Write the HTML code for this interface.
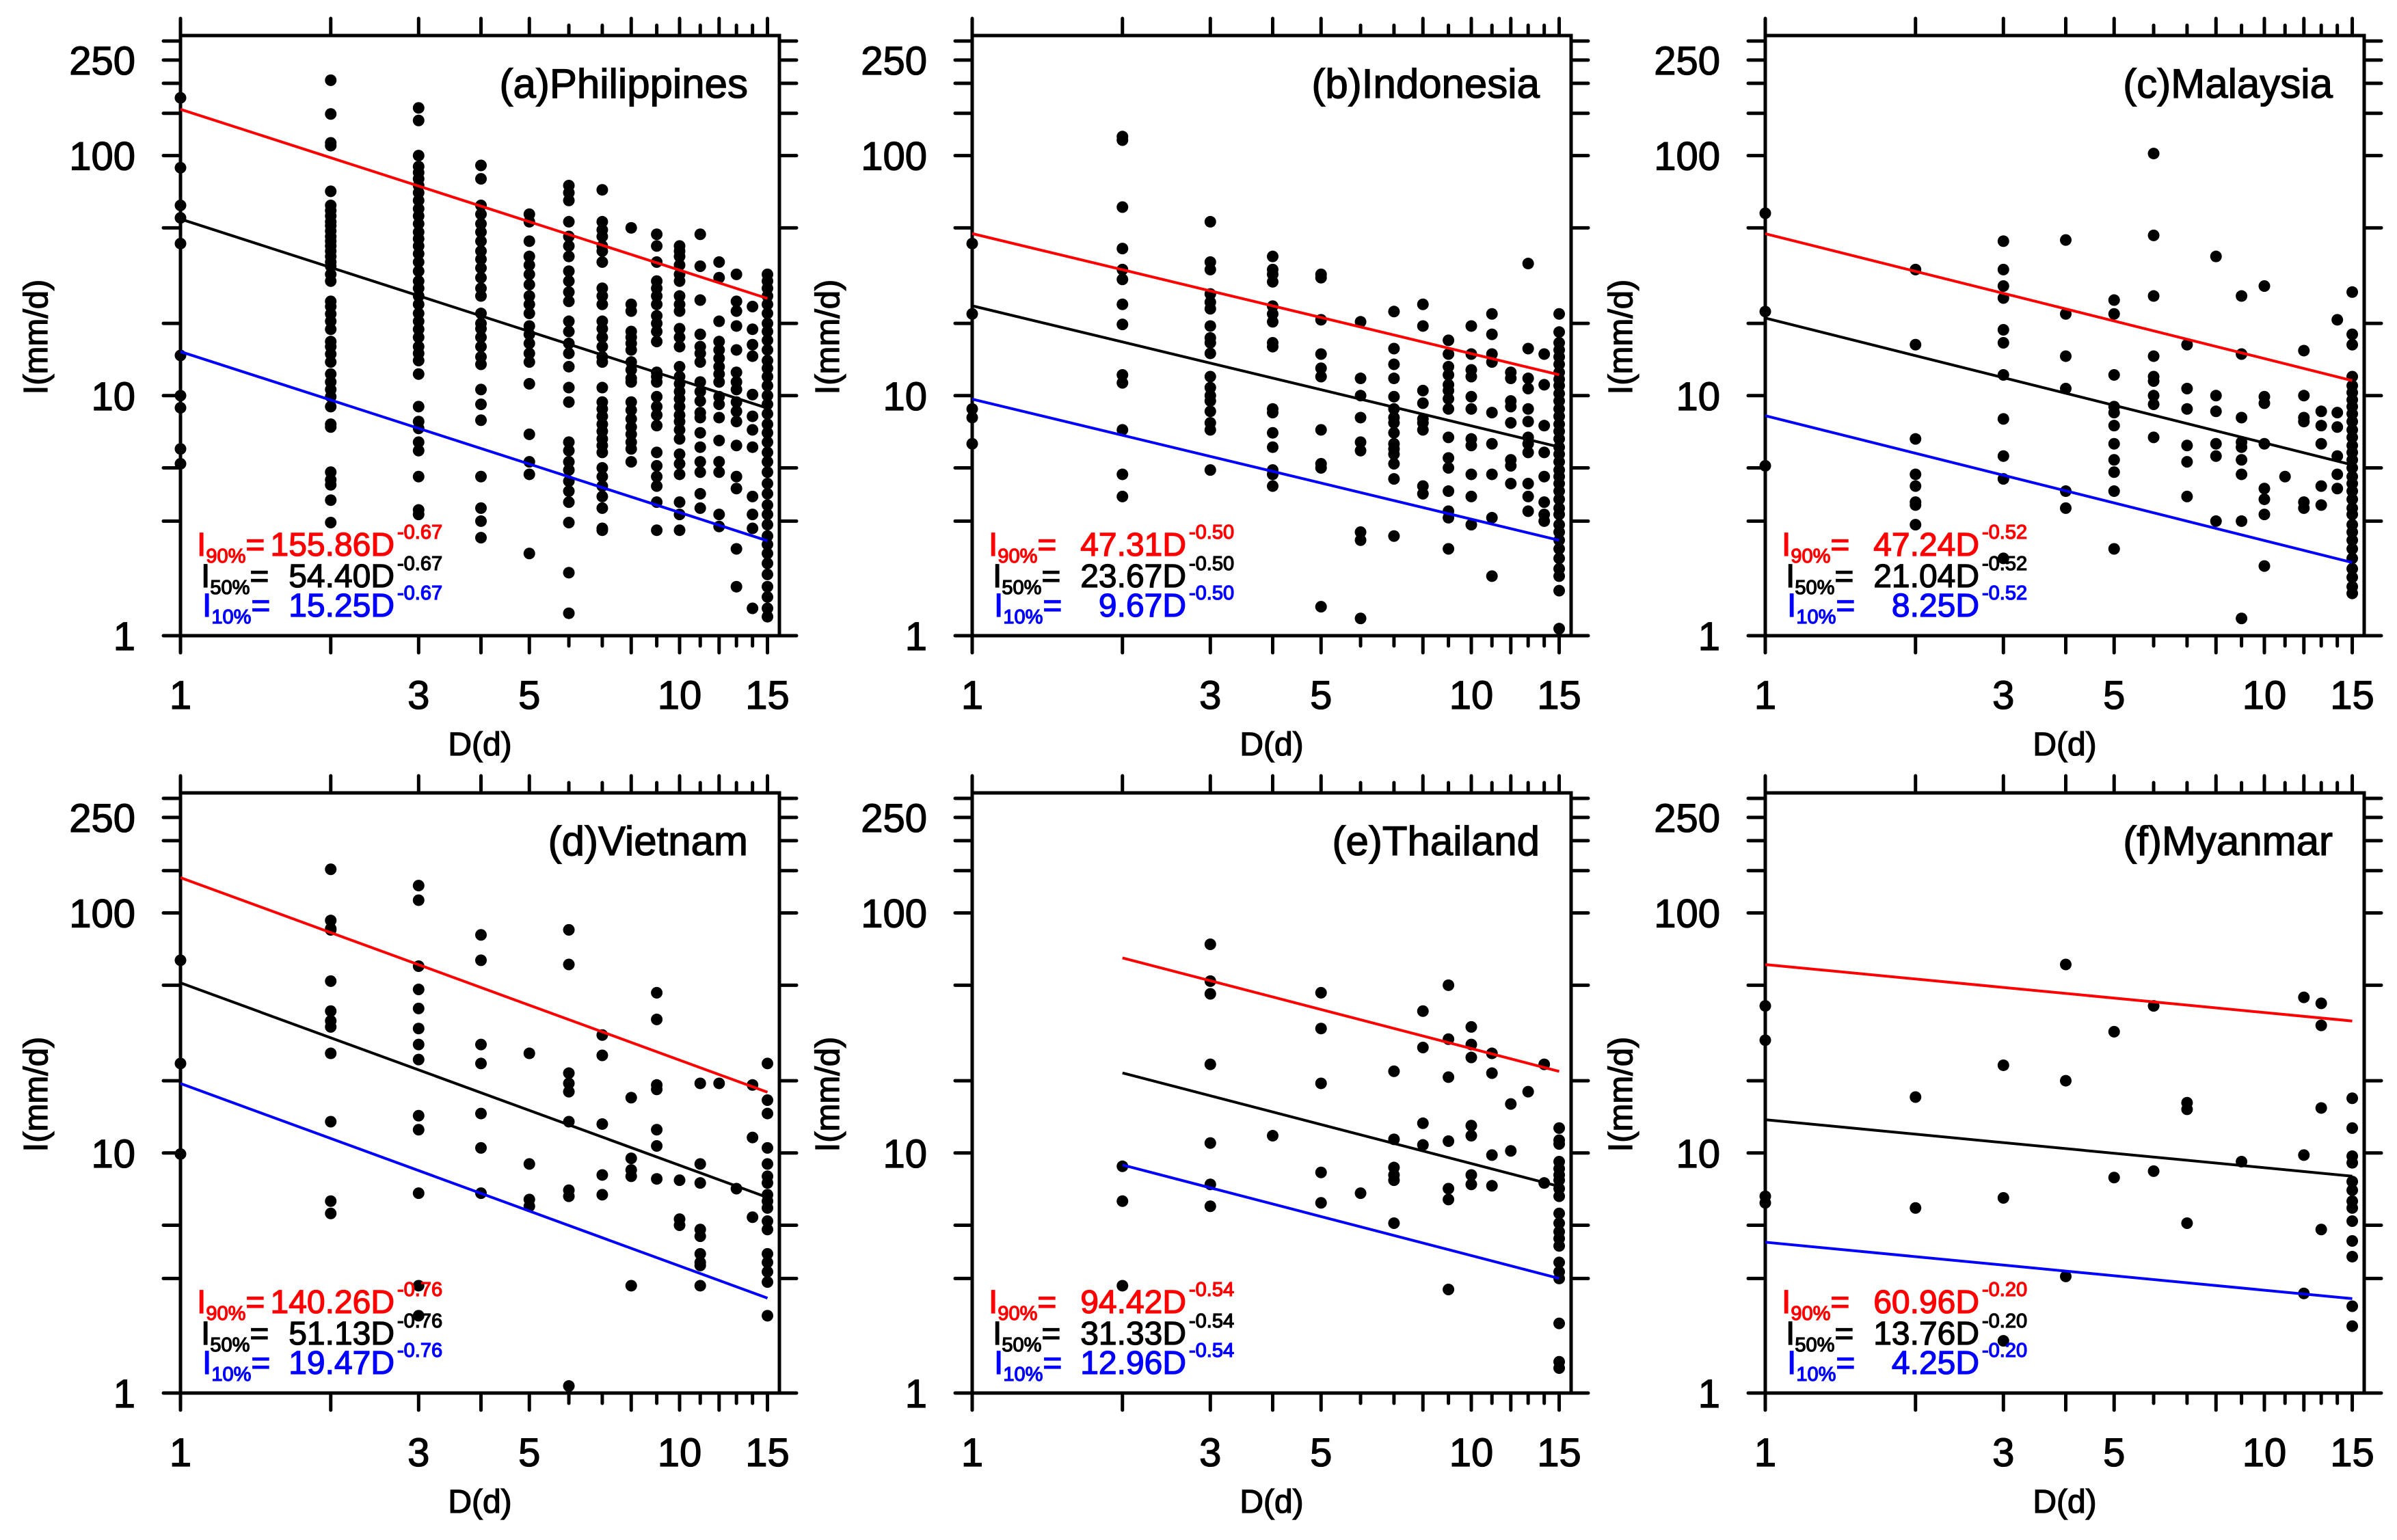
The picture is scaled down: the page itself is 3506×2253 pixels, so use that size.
<!DOCTYPE html>
<html><head><meta charset="utf-8"><style>
html,body{margin:0;padding:0;background:#fff}
svg{display:block}
text{font-family:"Liberation Sans",Arial,sans-serif;stroke:#000;stroke-width:1.3}
</style></head><body>
<svg id="fig" xmlns="http://www.w3.org/2000/svg" width="3506" height="2253" viewBox="0 0 3506 2253"></svg>
<script>
// ---- data (D in days, I in mm/d) ----
const panelTitles = ["(a)Philippines","(b)Indonesia","(c)Malaysia","(d)Vietnam","(e)Thailand","(f)Myanmar"];
const fitA90 = [155.86, 47.31, 47.24, 140.26, 94.42, 60.96];
const fitA50 = [54.40, 23.67, 21.04, 51.13, 31.33, 13.76];
const fitA10 = [15.25, 9.67, 8.25, 19.47, 12.96, 4.25];
const fitB = [-0.67, -0.50, -0.52, -0.76, -0.54, -0.20];
const fitDmin = [1, 1, 1, 1, 2, 1];
const fitDmax = [15, 15, 15, 15, 15, 15];
const days = [1,2,3,4,5,6,7,8,9,10,11,12,13,14,15];

const phValues = [
 [174,89,62,55,43,14.7,10,8.9,6.0,5.2],
 [206,149,113,110,71,62,59,56,53,51,48.5,46,44,42,40,38,36,34.6,32,30,24.7,23.5,21.9,20.4,18.9,16.8,16,14.9,13.8,12.3,11.4,10.6,9.9,9,7.6,7.4,4.8,4.46,4.25,3.67,2.96],
 [158,140,100,90,85,80,75,70,65,60,56,52,48,45,42,39,36,33,30,28,26,24,22,20.4,18.9,17.5,16,15,14,12.3,9,7.8,7.3,6.4,5.9,4.6,3.34,3.2],
 [91,80,62,57,52,48,44,40,37,34,31,28,26,22,20,19,17.5,16,14.5,13.5,10.6,9.2,7.9,4.6,3.4,3,2.56],
 [57,53,44,38,35,32,29,26,24,22,19.5,18,16.5,15,13.8,11.2,6.9,5.3,4.7,2.2],
 [75,70,65,53,46,42,38,33,30,27,24.7,20.4,18.5,16.5,15,13.2,10.8,9.4,6.4,5.9,5.3,4.9,4.4,4.0,3.6,2.96,1.83,1.24],
 [72,53,49,46,42,40,36,28,26,24,20.4,19,17.5,16,14.5,13.8,10.8,9.4,8.8,8.2,7.6,7.1,6.6,6.2,5.8,5.0,4.6,4.2,3.8,3.4,2.8,2.75],
 [50,24,22.5,18.5,17.5,16.5,15.5,13.8,12.8,11.8,11.4,9.4,8.7,8.0,7.4,6.9,6.4,6.0,5.3],
 [47,42,36,30,28,26,24,21.5,20,18.5,16.8,12.5,12,11.4,9.9,9.0,8.3,7.5,5.8,5.1,4.6,4.2,3.6,2.75],
 [42,40,38,35,32,30,26,24,22.5,19,17.5,16,13.2,12,11.2,10.4,9.7,9.0,8.3,7.8,7.2,6.6,5.7,5.2,4.7,3.6,3.2,2.75],
 [47,34.6,25,18,16,15,13.8,11.4,10.4,9.5,8.5,8.1,7,6.1,5.3,4.8,3.9,3.4],
 [36,31,20.4,16.8,15.5,14.3,13.2,12.3,11.4,9.9,9.2,8.1,6.5,5.3,4.8,3.2,2.85],
 [32,24.7,22.5,19.5,15.5,12.5,11.4,10.6,9.4,8.6,7.8,6.2,4.6,4.1,2.3,1.6],
 [23.5,18.9,16.3,14.6,10.1,8.2,7.2,6.1,3.8,3.2,2.8,1.3],
 [32,30,28,26,24,22,20,18.5,17,15.5,14,13,12,11,10,9.2,8.4,7.6,7,6.4,5.8,5.3,4.8,4.3,3.9,3.5,3.2,2.9,2.6,2.4,2.2,2.0,1.8,1.6,1.45,1.3,1.2]
];
const idValues = [
 [43,21.9,8.8,8.1,6.3],
 [120,116,61,41,33.5,30.5,24,19.8,12.2,11.3,7.2,4.7,3.8],
 [53,36,33.5,26.5,24.5,23,19.5,17.4,16.6,15,12,10.8,10,9.5,8.6,7.7,7.2,4.9],
 [38,33.5,32,29.8,23.6,21.9,20.3,16.6,16,8.8,8.5,7.0,6.1,4.9,4.7,4.2],
 [32,31,20.7,14.9,13,12,7.2,5.2,5.0,1.32],
 [20.3,11.8,10,8.1,6.4,5.9,2.7,2.5,1.18],
 [22.4,15.7,13.5,11.8,9.9,8.8,8.1,7.7,7.0,6.3,6.0,5.7,5.2,4.5,2.6],
 [24,19.5,10.5,9.3,8.0,7.7,7.2,4.2,3.9],
 [17,14.9,13.2,12.2,11.1,10.5,9.7,8.8,6.7,5.5,5.0,4.0,3.3,3.1,2.3],
 [19.5,14.9,12.8,12,9.9,8.8,6.6,6.2,4.7,3.8,2.9],
 [21.9,18,14.9,13.8,8.5,6.3,4.7,3.1,1.77],
 [12.5,11.8,9.5,9.0,7.7,5.4,5.1,4.3],
 [35.5,15.7,11.8,10.7,8.8,7.8,6.7,6.3,5.8,4.3,3.8,3.3],
 [14.9,11.1,7.5,5.8,4.6,3.6,3.2,3.0],
 [21.9,18.4,16.6,15.5,14.5,13.5,12.5,11.7,11,10.2,9.5,8.8,8.2,7.6,7.1,6.6,6.1,5.7,5.3,4.9,4.6,4.3,4.0,3.7,3.4,3.2,2.9,2.7,2.5,2.3,2.1,1.9,1.77,1.54,1.07]
];
const myValuesC = [
 [57.5,22.4,5.1],
 [33.5,16.3,6.6,4.7,4.2,3.6,3.5,2.9],
 [44,33.5,28.6,25.5,18.8,16.6,12.2,8.0,5.6,4.5,2.1],
 [44.5,21.9,14.6,10.7,4.0,3.4],
 [25,21.9,12.2,9.0,8.5,7.5,6.3,5.4,4.8,4.0,2.3],
 [102,46.5,26,14.6,12,11.5,10,9.2,6.7],
 [16.3,10.7,8.8,6.2,5.3,3.8],
 [38,10,8.6,6.3,5.6,3.0],
 [26,14.9,8.1,6.4,6.1,5.4,4.7,3.0,1.18],
 [28.6,9.9,9.3,6.3,4.1,3.7,3.2,1.95],
 [4.6],
 [15.4,10,8.1,7.8,3.6,3.4],
 [8.6,7.5,6.3,4.2,3.5],
 [20.7,8.5,7.4,5.6,4.7,4.1],
 [27,18,16.3,12,11,10.3,9.6,9,8.4,7.8,7.2,6.7,6.2,5.8,5.4,5.0,4.6,4.3,4.0,3.7,3.4,3.2,2.9,2.7,2.5,2.3,2.1,1.9,1.75,1.6,1.5]
];
const vnValues = [
 [63.5,23.6,9.9],
 [152,93,86,85,52,39,35.5,33.5,26,13.5,6.3,5.6],
 [130,113,60,48,40,33,28.3,24.5,14.3,12.5,6.8,2.8,2.1],
 [81,63.5,28.3,23.6,14.6,10.5,6.8],
 [26,9.0,6.4,6.0],
 [85,61,21.5,19.5,18,13.5,7.0,6.6,1.07],
 [31,25.5,13.2,8.1,6.7],
 [17,9.5,8.5,8.0,2.8],
 [46.5,36,19.2,18.4,12.5,10.7,7.8],
 [7.7,5.3,5.0],
 [19.5,9.0,7.5,4.8,4.5,3.8,3.5,3.4,2.8],
 [19.5],
 [7.1],
 [19.2,11.6,5.4],
 [23.6,16.6,14.6,10.5,9.0,8.0,7.5,6.7,6.3,5.9,5.2,4.8,3.8,3.5,3.2,2.9,2.1]
];
const thValues = [
 [],
 [8.8,6.3,2.8],
 [74,52,46,23.4,11,7.4,6.0],
 [11.8],
 [46.5,33,19.5,8.3,6.2],
 [6.8],
 [21.9,11.4,8.7,8.1,7.7,5.1],
 [39,27.5,13.3,10.8],
 [50,29.8,20.7,11.2,7.1,6.4,2.7],
 [33.5,28.3,25,13,11.8,8.1,7.4],
 [26,21.5,9.8,7.3],
 [16,10.2],
 [18],
 [23.4,7.5],
 [12.7,11.3,10.9,9.2,8.6,8.1,7.7,7.1,6.6,5.6,5.1,4.7,4.4,4.1,3.5,3.2,3.0,1.95,1.35,1.27]
];
const mmValues = [
 [41,29.5,6.6,6.2],
 [17.1,5.9],
 [23.2,6.5,1.65],
 [61,20,3.06],
 [32,7.9],
 [41,8.4],
 [16.2,15.2,5.1],
 [],
 [9.2],
 [],
 [],
 [44.5,9.8,2.6],
 [42,34,15.4,4.8],
 [],
 [16.9,12.7,9.7,9.1,7.6,7.0,6.3,5.9,5.2,4.3,3.7,2.3,1.9]
];
const panelValues = [phValues, idValues, myValuesC, vnValues, thValues, mmValues];
const yTickVals = [1,3,5,10,20,50,100,150,200,250,300];
const yTickLabels = ["1","10","100","250"];
const xTickVals = [1,2,3,4,5,6,7,8,9,10,11,12,13,14,15];
const xMajorTicks = [1,2,3,4,5,8,10,12,15];
const xTickLabels = ["1","3","5","10","15"];

// ---- layout ----
const NS = "http://www.w3.org/2000/svg";
const svg = document.getElementById('fig');
const lefts = [264, 1422, 2582];
const tops = [52, 1160];
const PW = 876, PH = 878;
const XMAXLOG = 1.2, YMAXLOG = 2.5;
function mk(tag, attrs, parent){
  const e = document.createElementNS(NS, tag);
  for (const k in attrs) e.setAttribute(k, attrs[k]);
  (parent||svg).appendChild(e);
  return e;
}
function panel(i){
  const L = lefts[i%3], T = tops[Math.floor(i/3)], R = L+PW, B = T+PH;
  const xs = d => L + PW*Math.log10(d)/XMAXLOG;
  const ys = v => B - PH*Math.log10(v)/YMAXLOG;
  const g = mk('g', {});
  
  
  const tg = mk('g', {stroke:'#000','stroke-width':5,'stroke-linecap':'round'}, g);
  
  
  yTickVals.forEach(v=>{
    const y = ys(v);
    mk('line',{x1:L-25,y1:y,x2:L,y2:y},tg);
    mk('line',{x1:R,y1:y,x2:R+25,y2:y},tg);
  });
  xTickVals.forEach(d=>{
    const x = xs(d), len = xMajorTicks.includes(d)?25:15;
    mk('line',{x1:x,y1:B,x2:x,y2:B+len},tg);
    mk('line',{x1:x,y1:T-len,x2:x,y2:T},tg);
  });
  const fr = mk('rect',{x:L,y:T,width:PW,height:PH,fill:'none',stroke:'#000','stroke-width':5},g);
  
  
  yTickLabels.forEach(s=>{
    const t = mk('text',{x:L-66,y:ys(+s)+21,'font-size':58,'text-anchor':'end'},g);
    
    
    t.textContent = s;
  });
  xTickLabels.forEach(s=>{
    const t = mk('text',{x:xs(+s),y:B+107,'font-size':58,'text-anchor':'middle'},g);
    
    
    t.textContent = s;
  });
  const xt = mk('text',{x:(L+R)/2,y:B+175,'font-size':48,'text-anchor':'middle'},g);
  
  
  xt.textContent = 'D(d)';
  const cy = T+441;
  const yt = mk('text',{x:L-195,y:cy,'font-size':49,'text-anchor':'middle',transform:`rotate(-90 ${L-195} ${cy})`},g);
  
  
  yt.textContent = 'I(mm/d)';
  const pg = mk('g',{fill:'#000'},g);
  
  
  panelValues[i].forEach((col,k)=>{
    col.forEach(v=>{
      const c = mk('circle',{cx:xs(days[k]),cy:ys(v),r:8.5},pg);
      
      
    });
  });
  const fits = [[fitA90[i],'#ff0000','fit-line-90'],[fitA50[i],'#000000','fit-line-50'],[fitA10[i],'#0000ff','fit-line-10']];
  fits.forEach(f=>{
    const d0 = fitDmin[i], d1 = fitDmax[i];
    const ln = mk('line',{x1:xs(d0),y1:ys(f[0]*Math.pow(d0,fitB[i])),x2:xs(d1),y2:ys(f[0]*Math.pow(d1,fitB[i])),stroke:f[1],'stroke-width':4},g);
    
    
  });
  const tt = mk('text',{x:R-46,y:T+91,'font-size':60,'text-anchor':'end'},g);
  
  
  tt.textContent = panelTitles[i];
  const rows = [[fitA90[i],'#ff0000','90%',B-117,L+24,'equation-90'],[fitA50[i],'#000000','50%',B-71,L+30,'equation-50'],[fitA10[i],'#0000ff','10%',B-28,L+32,'equation-10']];
  rows.forEach(r=>{
    const eg = mk('g',{fill:r[1]},g);
    
    
    const t1 = mk('text',{x:r[4],y:r[3],'font-size':48,style:'stroke:'+r[1]},eg);
    const a = mk('tspan',{},t1); a.textContent='I';
    const b = mk('tspan',{dy:10,'font-size':29},t1); b.textContent=r[2];
    const c = mk('tspan',{dy:-10},t1); c.textContent='=';
    const t2 = mk('text',{x:L+313,y:r[3],'font-size':48,'text-anchor':'end',style:'stroke:'+r[1]},eg);
    t2.textContent = r[0].toFixed(2)+'D';
    const t3 = mk('text',{x:L+317,y:r[3]-25,'font-size':29,style:'stroke:'+r[1]},eg);
    t3.textContent = fitB[i].toFixed(2);
  });
}
for (let i=0;i<6;i++) panel(i);
</script>
</body></html>
